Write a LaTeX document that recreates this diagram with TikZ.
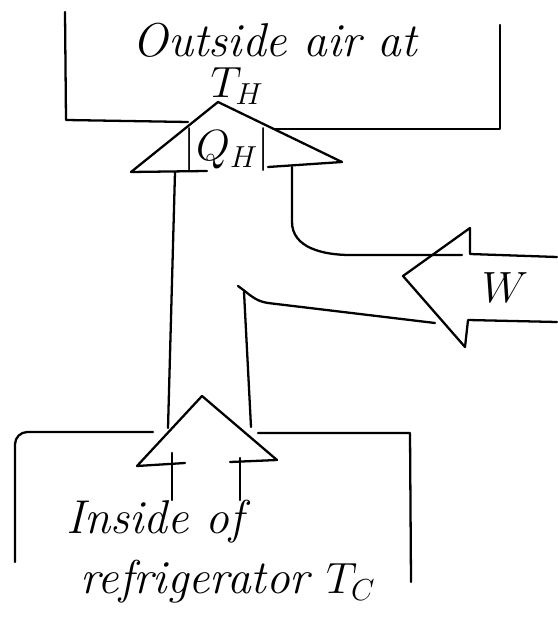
\documentclass[tikz,border=0pt]{standalone}
\usepackage{amsmath}
\usetikzlibrary{positioning}
\begin{document}
\begin{tikzpicture}[x=0.02cm, y=-0.02cm,
    pen/.style={line width=1.3pt, line join=round, line cap=round},
    hand/.style={font=\fontsize{27}{30}\selectfont\itshape, inner sep=0pt}]
    \useasboundingbox (0,0) rectangle (557,617);
    % Outside air (hot side)
    \draw[pen] (65,12) -- (66,120) -- (188,122);
    \draw[pen] (275,129) -- (500,129) -- (500,25);
    \node[hand] (outside) at (275,40) {Outside air at};
    \node[hand] (th) at (237,86) {$T_H$};
    % Upper arrow, heat rejected
    \coordinate (qtop) at (218,102);
    \coordinate (qleft) at (131,172);
    \coordinate (qright) at (342,162);
    \draw[pen] (207,171) -- (qleft) -- (qtop) -- (qright) -- (268,167);
    \node[hand] (qh) at (227,150) {$|Q_H|$};
    \draw[pen] (175,172) -- (168,428);
    \draw[pen] (292,167) -- (292,222) to[out=-90, in=180] (350,255) -- (462,255);
    % Work input
    \draw[pen] (557,257) -- (470,254) -- (470,228) -- (403,276)
        -- (465,347) -- (468,320) -- (557,322);
    \node[hand] (work) at (505,288) {$W$};
    \draw[pen] (435,323) -- (268,303) to[out=172, in=-35] (238,286);
    \draw[pen] (244,292) -- (251,427);
    % Lower arrow, heat taken in
    \coordinate (ctop) at (202,396);
    \coordinate (cleft) at (137,466);
    \coordinate (cright) at (277,460);
    \draw[pen] (185,463) -- (cleft) -- (ctop) -- (cright) -- (230,462);
    \draw[pen] (172,453) -- (172,500);
    \draw[pen] (240,458) -- (240,500);
    % Inside of refrigerator (cold side)
    \draw[pen, rounded corners=7pt] (153,432) -- (15,432) -- (15,562);
    \draw[pen] (258,433) -- (410,433) -- (411,582);
    \node[hand] (inside) at (155,522) {Inside of};
    \node[hand] (fridge) at (228,582) {refrigerator $T_C$};
\end{tikzpicture}
\end{document}
